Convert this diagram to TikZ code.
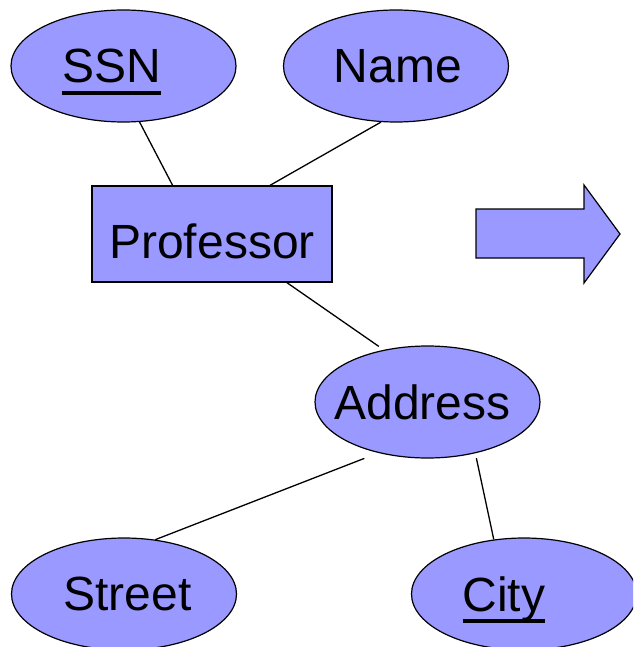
\documentclass[tikz,border=0pt]{standalone}
\usepackage{fontspec}
\setmainfont{Liberation Sans}
\usetikzlibrary{positioning,shapes.geometric}
\definecolor{erfill}{RGB}{153,153,255}
\newlength{\keywd}
\newcommand{\keyattr}[1]{\settowidth{\keywd}{#1}\rlap{\rule[-12pt]{\keywd}{4pt}}#1}

\begin{document}
\begin{tikzpicture}[x=1pt,y=-1pt,
  attr/.style={ellipse,draw,line width=1.2pt,fill=erfill,inner sep=0pt,minimum width=225pt,minimum height=112pt},
  entity/.style={rectangle,draw,line width=1.2pt,fill=erfill,inner sep=0pt,minimum width=240pt,minimum height=96pt,
    font=\fontsize{48}{56}\selectfont,text height=48pt,text depth=0pt},
  every label/.style={font=\fontsize{48}{56}\selectfont,text depth=0pt,inner sep=0pt},
  link/.style={line width=1.3pt}]
\useasboundingbox (0,0) rectangle (633,647);
\clip (0,0) rectangle (633,647);
\node[attr,label={[xshift=-12pt]center:\keyattr{SSN}}] (ssn) at (123.5,66) {};
\node[attr,label={[xshift=2pt]center:Name}] (name) at (396,66) {};
\node[entity] (prof) at (212,234) {Professor};
\node[attr,label={[xshift=-5pt]center:Address}] (addr) at (427.5,402) {};
\node[attr,label={[xshift=3.5pt]center:Street}] (street) at (124,594) {};
\node[attr,label={[xshift=-20pt]center:\keyattr{City}}] (city) at (524,594) {};
\draw[line width=1.2pt,fill=erfill] (476,209) -- (584,209) -- (584,185) -- (620,234) -- (584,283) -- (584,258) -- (476,258) -- cycle;
\draw[link] (ssn.-74) -- (prof.129.8);
\draw[link] (name.-105.4) -- (prof.40.6);
\draw[link,shorten >=6pt] (prof.-33.3) -- (addr.130.6);
\draw[link,shorten <=15pt] (addr.-134.8) -- (street.60.4);
\draw[link,shorten <=5pt] (addr.-47.6) -- (city.119.6);
\end{tikzpicture}
\end{document}
